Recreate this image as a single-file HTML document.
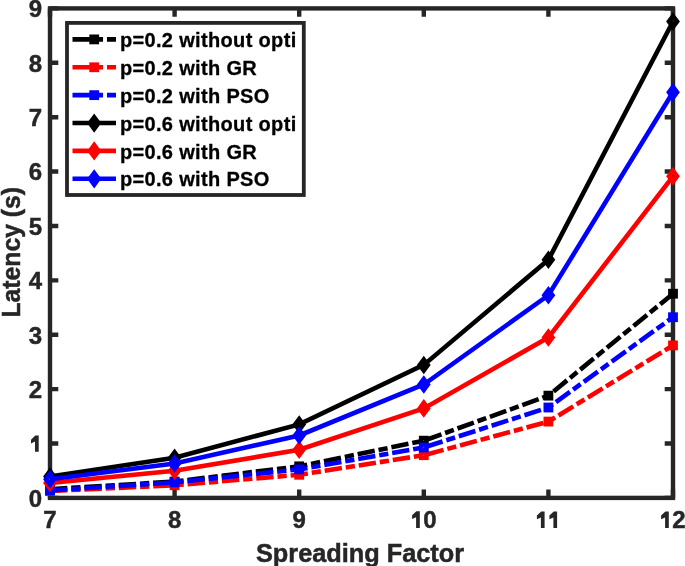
<!DOCTYPE html><html><head><meta charset="utf-8"><style>html,body{margin:0;padding:0;background:#fff;}svg{display:block;will-change:transform;}text{font-family:"Liberation Sans",sans-serif;font-weight:bold;}</style></head><body>
<svg width="685" height="566" viewBox="0 0 685 566">
<rect width="685" height="566" fill="#fff"/>
<rect x="50.0" y="8.4" width="623.0" height="489.5" fill="none" stroke="#262626" stroke-width="4.4"/>
<path d="M50.00,497.9V489.60M50.00,8.4V16.70M174.60,497.9V489.60M174.60,8.4V16.70M299.20,497.9V489.60M299.20,8.4V16.70M423.80,497.9V489.60M423.80,8.4V16.70M548.40,497.9V489.60M548.40,8.4V16.70M673.00,497.9V489.60M673.00,8.4V16.70M50.0,497.90H58.30M673.0,497.90H664.70M50.0,443.51H58.30M673.0,443.51H664.70M50.0,389.12H58.30M673.0,389.12H664.70M50.0,334.73H58.30M673.0,334.73H664.70M50.0,280.34H58.30M673.0,280.34H664.70M50.0,225.96H58.30M673.0,225.96H664.70M50.0,171.57H58.30M673.0,171.57H664.70M50.0,117.18H58.30M673.0,117.18H664.70M50.0,62.79H58.30M673.0,62.79H664.70M50.0,8.40H58.30M673.0,8.40H664.70" stroke="#262626" stroke-width="4.4" fill="none"/>
<clipPath id="c"><rect x="0" y="0" width="685" height="566"/></clipPath>
<polyline points="50.00,489.20 174.60,481.58 299.20,466.35 423.80,440.68 548.40,395.65 673.00,293.72" fill="none" stroke="#000" stroke-width="4.6" stroke-linejoin="miter" stroke-linecap="butt" stroke-dasharray="17.4 3.9 9.25 3.9"/>
<rect x="47.40" y="486.60" width="5.200000000000001" height="5.200000000000001" fill="none" stroke="#000" stroke-width="4.6"/>
<rect x="172.00" y="478.98" width="5.200000000000001" height="5.200000000000001" fill="none" stroke="#000" stroke-width="4.6"/>
<rect x="296.60" y="463.75" width="5.200000000000001" height="5.200000000000001" fill="none" stroke="#000" stroke-width="4.6"/>
<rect x="421.20" y="438.08" width="5.200000000000001" height="5.200000000000001" fill="none" stroke="#000" stroke-width="4.6"/>
<rect x="545.80" y="393.05" width="5.200000000000001" height="5.200000000000001" fill="none" stroke="#000" stroke-width="4.6"/>
<rect x="670.40" y="291.12" width="5.200000000000001" height="5.200000000000001" fill="none" stroke="#000" stroke-width="4.6"/>
<polyline points="50.00,490.99 174.60,485.28 299.20,474.78 423.80,455.20 548.40,421.59 673.00,345.39" fill="none" stroke="#f00" stroke-width="4.6" stroke-linejoin="miter" stroke-linecap="butt" stroke-dasharray="17.4 3.9 9.25 3.9"/>
<rect x="47.40" y="488.39" width="5.200000000000001" height="5.200000000000001" fill="none" stroke="#f00" stroke-width="4.6"/>
<rect x="172.00" y="482.68" width="5.200000000000001" height="5.200000000000001" fill="none" stroke="#f00" stroke-width="4.6"/>
<rect x="296.60" y="472.18" width="5.200000000000001" height="5.200000000000001" fill="none" stroke="#f00" stroke-width="4.6"/>
<rect x="421.20" y="452.60" width="5.200000000000001" height="5.200000000000001" fill="none" stroke="#f00" stroke-width="4.6"/>
<rect x="545.80" y="418.99" width="5.200000000000001" height="5.200000000000001" fill="none" stroke="#f00" stroke-width="4.6"/>
<rect x="670.40" y="342.79" width="5.200000000000001" height="5.200000000000001" fill="none" stroke="#f00" stroke-width="4.6"/>
<polyline points="50.00,490.39 174.60,482.40 299.20,469.40 423.80,447.48 548.40,407.51 673.00,317.22" fill="none" stroke="#00f" stroke-width="4.6" stroke-linejoin="miter" stroke-linecap="butt" stroke-dasharray="17.4 3.9 9.25 3.9"/>
<rect x="47.40" y="487.79" width="5.200000000000001" height="5.200000000000001" fill="none" stroke="#00f" stroke-width="4.6"/>
<rect x="172.00" y="479.80" width="5.200000000000001" height="5.200000000000001" fill="none" stroke="#00f" stroke-width="4.6"/>
<rect x="296.60" y="466.80" width="5.200000000000001" height="5.200000000000001" fill="none" stroke="#00f" stroke-width="4.6"/>
<rect x="421.20" y="444.88" width="5.200000000000001" height="5.200000000000001" fill="none" stroke="#00f" stroke-width="4.6"/>
<rect x="545.80" y="404.91" width="5.200000000000001" height="5.200000000000001" fill="none" stroke="#00f" stroke-width="4.6"/>
<rect x="670.40" y="314.62" width="5.200000000000001" height="5.200000000000001" fill="none" stroke="#00f" stroke-width="4.6"/>
<polyline points="50.00,476.58 174.60,457.71 299.20,424.42 423.80,364.92 548.40,259.79 673.00,21.45" fill="none" stroke="#000" stroke-width="4.6" stroke-linejoin="miter" stroke-linecap="butt"/>
<polygon points="50.00,471.18 54.03,476.58 50.00,481.98 45.97,476.58" fill="none" stroke="#000" stroke-width="4.6" stroke-linejoin="miter" stroke-miterlimit="10"/>
<polygon points="174.60,452.30 178.63,457.71 174.60,463.11 170.57,457.71" fill="none" stroke="#000" stroke-width="4.6" stroke-linejoin="miter" stroke-miterlimit="10"/>
<polygon points="299.20,419.02 303.23,424.42 299.20,429.82 295.17,424.42" fill="none" stroke="#000" stroke-width="4.6" stroke-linejoin="miter" stroke-miterlimit="10"/>
<polygon points="423.80,359.52 427.83,364.92 423.80,370.32 419.77,364.92" fill="none" stroke="#000" stroke-width="4.6" stroke-linejoin="miter" stroke-miterlimit="10"/>
<polygon points="548.40,254.38 552.43,259.79 548.40,265.19 544.37,259.79" fill="none" stroke="#000" stroke-width="4.6" stroke-linejoin="miter" stroke-miterlimit="10"/>
<polygon points="673.00,16.05 677.03,21.45 673.00,26.86 668.97,21.45" fill="none" stroke="#000" stroke-width="4.6" stroke-linejoin="miter" stroke-miterlimit="10"/>
<polyline points="50.00,483.00 174.60,470.81 299.20,449.77 423.80,408.38 548.40,337.51 673.00,176.30" fill="none" stroke="#f00" stroke-width="4.6" stroke-linejoin="miter" stroke-linecap="butt"/>
<polygon points="50.00,477.59 54.03,483.00 50.00,488.40 45.97,483.00" fill="none" stroke="#f00" stroke-width="4.6" stroke-linejoin="miter" stroke-miterlimit="10"/>
<polygon points="174.60,465.41 178.63,470.81 174.60,476.22 170.57,470.81" fill="none" stroke="#f00" stroke-width="4.6" stroke-linejoin="miter" stroke-miterlimit="10"/>
<polygon points="299.20,444.36 303.23,449.77 299.20,455.17 295.17,449.77" fill="none" stroke="#f00" stroke-width="4.6" stroke-linejoin="miter" stroke-miterlimit="10"/>
<polygon points="423.80,402.97 427.83,408.38 423.80,413.78 419.77,408.38" fill="none" stroke="#f00" stroke-width="4.6" stroke-linejoin="miter" stroke-miterlimit="10"/>
<polygon points="548.40,332.10 552.43,337.51 548.40,342.91 544.37,337.51" fill="none" stroke="#f00" stroke-width="4.6" stroke-linejoin="miter" stroke-miterlimit="10"/>
<polygon points="673.00,170.90 677.03,176.30 673.00,181.70 668.97,176.30" fill="none" stroke="#f00" stroke-width="4.6" stroke-linejoin="miter" stroke-miterlimit="10"/>
<polyline points="50.00,479.30 174.60,463.53 299.20,435.46 423.80,384.50 548.40,295.25 673.00,92.32" fill="none" stroke="#00f" stroke-width="4.6" stroke-linejoin="miter" stroke-linecap="butt"/>
<polygon points="50.00,473.90 54.03,479.30 50.00,484.70 45.97,479.30" fill="none" stroke="#00f" stroke-width="4.6" stroke-linejoin="miter" stroke-miterlimit="10"/>
<polygon points="174.60,458.12 178.63,463.53 174.60,468.93 170.57,463.53" fill="none" stroke="#00f" stroke-width="4.6" stroke-linejoin="miter" stroke-miterlimit="10"/>
<polygon points="299.20,430.06 303.23,435.46 299.20,440.86 295.17,435.46" fill="none" stroke="#00f" stroke-width="4.6" stroke-linejoin="miter" stroke-miterlimit="10"/>
<polygon points="423.80,379.10 427.83,384.50 423.80,389.90 419.77,384.50" fill="none" stroke="#00f" stroke-width="4.6" stroke-linejoin="miter" stroke-miterlimit="10"/>
<polygon points="548.40,289.84 552.43,295.25 548.40,300.65 544.37,295.25" fill="none" stroke="#00f" stroke-width="4.6" stroke-linejoin="miter" stroke-miterlimit="10"/>
<polygon points="673.00,86.92 677.03,92.32 673.00,97.73 668.97,92.32" fill="none" stroke="#00f" stroke-width="4.6" stroke-linejoin="miter" stroke-miterlimit="10"/>
<text x="50.00" y="528" font-size="24" fill="#262626" stroke="#262626" stroke-width="0.45" text-anchor="middle">7</text>
<text x="174.60" y="528" font-size="24" fill="#262626" stroke="#262626" stroke-width="0.45" text-anchor="middle">8</text>
<text x="299.20" y="528" font-size="24" fill="#262626" stroke="#262626" stroke-width="0.45" text-anchor="middle">9</text>
<text x="423.30" y="528" font-size="24" fill="#262626" stroke="#262626" stroke-width="0.45">0</text>
<text x="672.30" y="528" font-size="24" fill="#262626" stroke="#262626" stroke-width="0.45">2</text>
<text x="42" y="506.80" font-size="24" fill="#262626" stroke="#262626" stroke-width="0.45" text-anchor="end">0</text>
<text x="42" y="398.02" font-size="24" fill="#262626" stroke="#262626" stroke-width="0.45" text-anchor="end">2</text>
<text x="42" y="343.63" font-size="24" fill="#262626" stroke="#262626" stroke-width="0.45" text-anchor="end">3</text>
<text x="42" y="289.24" font-size="24" fill="#262626" stroke="#262626" stroke-width="0.45" text-anchor="end">4</text>
<text x="42" y="234.86" font-size="24" fill="#262626" stroke="#262626" stroke-width="0.45" text-anchor="end">5</text>
<text x="42" y="180.47" font-size="24" fill="#262626" stroke="#262626" stroke-width="0.45" text-anchor="end">6</text>
<text x="42" y="126.08" font-size="24" fill="#262626" stroke="#262626" stroke-width="0.45" text-anchor="end">7</text>
<text x="42" y="71.69" font-size="24" fill="#262626" stroke="#262626" stroke-width="0.45" text-anchor="end">8</text>
<text x="42" y="17.30" font-size="24" fill="#262626" stroke="#262626" stroke-width="0.45" text-anchor="end">9</text>
<path d="M419.80,527.90V511.20H416.40L412.10,515.30V519.10L416.10,517.20V527.90ZM544.60,527.90V511.40H541.20L536.90,515.50V519.30L540.90,517.40V527.90ZM557.10,527.90V511.40H553.70L549.40,515.50V519.30L553.40,517.40V527.90ZM668.80,527.90V511.40H665.40L661.10,515.50V519.30L665.10,517.40V527.90ZM38.70,451.81V435.61H35.30L31.00,439.71V443.51L35.00,441.61V451.81Z" fill="#262626"/>
<text x="256" y="561.5" font-size="25.5" fill="#262626" stroke="#262626" stroke-width="0.5" textLength="208" lengthAdjust="spacingAndGlyphs">Spreading Factor</text>
<text transform="translate(19.7,317.5) rotate(-90)" x="0" y="0" font-size="25.5" fill="#262626" stroke="#262626" stroke-width="0.5" textLength="130.5" lengthAdjust="spacingAndGlyphs">Latency (s)</text>
<rect x="67.0" y="22.9" width="236.8" height="172.1" fill="#fff" stroke="#262626" stroke-width="3.8"/>
<path d="M72.5,39.40H116" stroke="#000" stroke-width="4.6" fill="none" stroke-dasharray="17.4 3.9 9.25 3.9"/>
<rect x="91.60" y="36.80" width="5.200000000000001" height="5.200000000000001" fill="none" stroke="#000" stroke-width="4.6"/>
<text x="119.9" y="47.00" font-size="20" letter-spacing="0.34" fill="#000" stroke="#000" stroke-width="0.3">p=0.2 without opti</text>
<path d="M72.5,67.28H116" stroke="#f00" stroke-width="4.6" fill="none" stroke-dasharray="17.4 3.9 9.25 3.9"/>
<rect x="91.60" y="64.68" width="5.200000000000001" height="5.200000000000001" fill="none" stroke="#f00" stroke-width="4.6"/>
<text x="119.9" y="74.88" font-size="20" letter-spacing="0.34" fill="#000" stroke="#000" stroke-width="0.3">p=0.2 with GR</text>
<path d="M72.5,95.16H116" stroke="#00f" stroke-width="4.6" fill="none" stroke-dasharray="17.4 3.9 9.25 3.9"/>
<rect x="91.60" y="92.56" width="5.200000000000001" height="5.200000000000001" fill="none" stroke="#00f" stroke-width="4.6"/>
<text x="119.9" y="102.76" font-size="20" letter-spacing="0.34" fill="#000" stroke="#000" stroke-width="0.3">p=0.2 with PSO</text>
<path d="M72.5,123.04H116" stroke="#000" stroke-width="4.6" fill="none"/>
<polygon points="94.20,117.31 98.44,123.04 94.20,128.77 89.96,123.04" fill="none" stroke="#000" stroke-width="4.6" stroke-linejoin="miter" stroke-miterlimit="10"/>
<text x="119.9" y="130.64" font-size="20" letter-spacing="0.34" fill="#000" stroke="#000" stroke-width="0.3">p=0.6 without opti</text>
<path d="M72.5,150.92H116" stroke="#f00" stroke-width="4.6" fill="none"/>
<polygon points="94.20,145.19 98.44,150.92 94.20,156.65 89.96,150.92" fill="none" stroke="#f00" stroke-width="4.6" stroke-linejoin="miter" stroke-miterlimit="10"/>
<text x="119.9" y="158.52" font-size="20" letter-spacing="0.34" fill="#000" stroke="#000" stroke-width="0.3">p=0.6 with GR</text>
<path d="M72.5,178.80H116" stroke="#00f" stroke-width="4.6" fill="none"/>
<polygon points="94.20,173.07 98.44,178.80 94.20,184.53 89.96,178.80" fill="none" stroke="#00f" stroke-width="4.6" stroke-linejoin="miter" stroke-miterlimit="10"/>
<text x="119.9" y="186.40" font-size="20" letter-spacing="0.34" fill="#000" stroke="#000" stroke-width="0.3">p=0.6 with PSO</text>
</svg></body></html>
